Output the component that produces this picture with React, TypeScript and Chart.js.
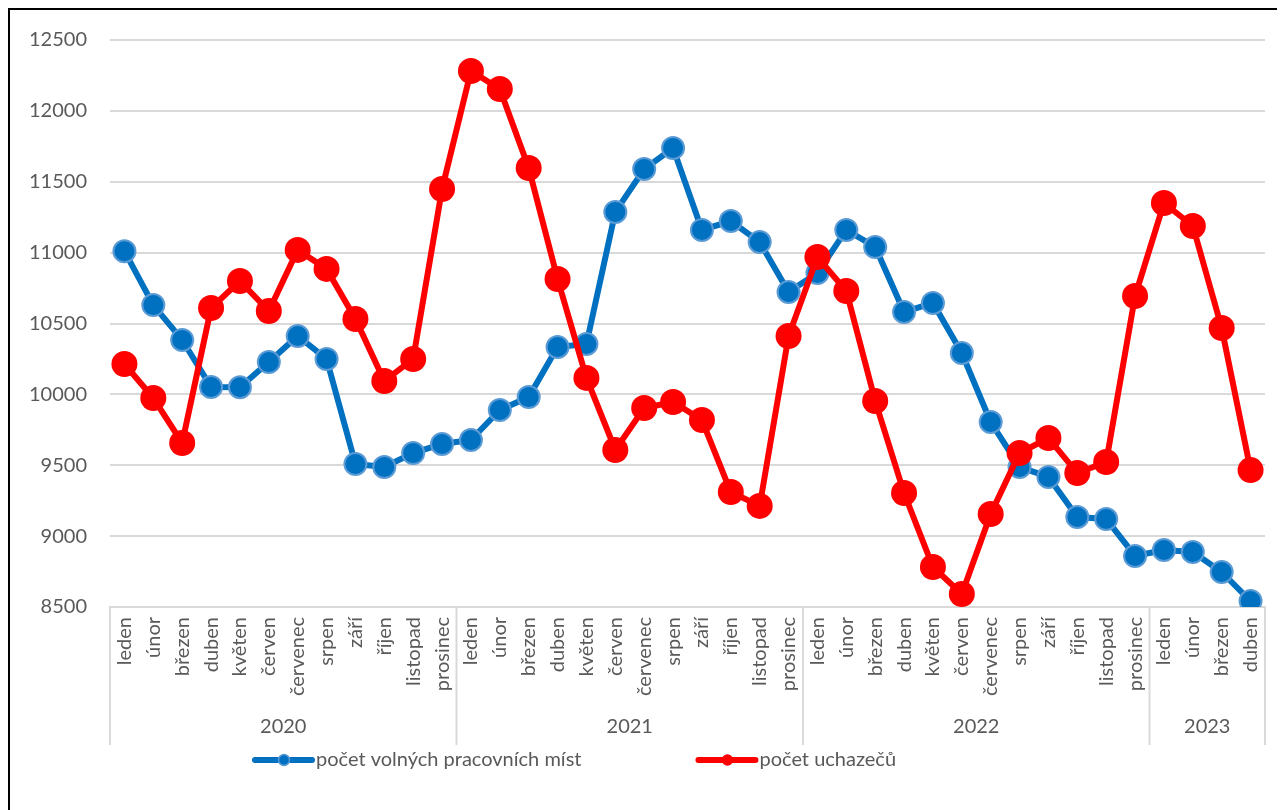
import { useEffect, useRef } from "react";
import { Chart, registerables } from "chart.js";

Chart.register(...registerables);

const months = ["leden", "únor", "březen", "duben", "květen", "červen", "červenec", "srpen", "září", "říjen", "listopad", "prosinec"];
const years = ["2020", "2021", "2022", "2023"];
const monthsPerYear = [12, 12, 12, 4];
const categories: string[] = monthsPerYear.flatMap((n) => months.slice(0, n));

const vacancies = [
  11010, 10630, 10384, 10052, 10050, 10228, 10412, 10250, 9509, 9488, 9586, 9650,
  9678, 9890, 9981, 10334, 10355, 11287, 11590, 11738, 11160, 11223, 11075, 10722,
  10856, 11160, 11040, 10581, 10645, 10292, 9805, 9488, 9417, 9135, 9121, 8860,
  8902, 8888, 8747, 8542,
];
const applicants = [
  10214, 9974, 9657, 10609, 10800, 10588, 11019, 10885, 10532, 10094, 10250, 11449,
  12281, 12154, 11597, 10814, 10116, 9608, 9904, 9946, 9819, 9311, 9213, 10412,
  10969, 10729, 9953, 9304, 8782, 8592, 9156, 9586, 9692, 9445, 9523, 10694,
  11350, 11188, 10468, 9466,
];
const seriesNames = ["počet volných pracovních míst", "počet uchazečů"];
const yMin = 8500;
const yMax = 12500;
const yStep = 500;

const FONT = "Lato, 'Open Sans', sans-serif";
const TEXT = "#595959";
const GRID = "#d9d9d9";
const BLUE = "#0070C0";
const BLUE_EDGE = "#5B9BD5";
const RED = "#FF0000";

const yearAxisPlugin = {
  id: "yearAxis",
  afterDraw(chart: any) {
    const { ctx, chartArea, scales } = chart;
    const x = scales.x;
    const half = (x.getPixelForValue(1) - x.getPixelForValue(0)) / 2;
    const top = chartArea.bottom;
    const bottom = chartArea.bottom + 138;
    ctx.save();
    ctx.font = `20px ${FONT}`;
    ctx.fillStyle = TEXT;
    ctx.textAlign = "center";
    ctx.textBaseline = "middle";
    ctx.strokeStyle = GRID;
    ctx.lineWidth = 2;
    let start = 0;
    const bounds: number[] = [];
    years.forEach((yr, i) => {
      const n = monthsPerYear[i];
      const x0 = x.getPixelForValue(start) - half;
      const x1 = x.getPixelForValue(start + n - 1) + half;
      bounds.push(x0);
      if (i === years.length - 1) bounds.push(x1);
      ctx.fillText(yr, (x0 + x1) / 2, chartArea.bottom + 120);
      start += n;
    });
    bounds.forEach((bx) => {
      ctx.beginPath();
      ctx.moveTo(bx, top);
      ctx.lineTo(bx, bottom);
      ctx.stroke();
    });

    // legend
    const ly = chartArea.bottom + 153;
    ctx.font = `20px ${FONT}`;
    ctx.textAlign = "left";
    ctx.textBaseline = "middle";
    const items = [
      { name: seriesNames[0], color: BLUE, edge: BLUE_EDGE, r: 5.5 },
      { name: seriesNames[1], color: RED, edge: RED, r: 5 },
    ];
    let lx = chartArea.left + 145;
    items.forEach((it) => {
      ctx.strokeStyle = it.color;
      ctx.lineWidth = 6;
      ctx.lineCap = "round";
      ctx.beginPath();
      ctx.moveTo(lx, ly);
      ctx.lineTo(lx + 57, ly);
      ctx.stroke();
      ctx.beginPath();
      ctx.arc(lx + 29, ly, it.r, 0, Math.PI * 2);
      ctx.fillStyle = it.color;
      ctx.fill();
      ctx.lineWidth = 1.5;
      ctx.strokeStyle = it.edge;
      ctx.stroke();
      ctx.fillStyle = TEXT;
      ctx.fillText(it.name, lx + 61, ly);
      const w = ctx.measureText(it.name).width;
      lx = lx + 61 + w + 117;
    });
    ctx.restore();
  },
};

export default function App() {
  const ref = useRef<HTMLCanvasElement>(null);
  useEffect(() => {
    if (!ref.current) return;
    const chart = new Chart(ref.current, {
      type: "line",
      data: {
        labels: categories,
        datasets: [
          {
            label: seriesNames[0],
            data: vacancies,
            borderColor: BLUE,
            backgroundColor: BLUE,
            borderWidth: 6,
            pointRadius: 11,
            pointBorderWidth: 2,
            pointBackgroundColor: BLUE,
            pointBorderColor: BLUE_EDGE,
            tension: 0,
            order: 1,
          },
          {
            label: seriesNames[1],
            data: applicants,
            borderColor: RED,
            backgroundColor: RED,
            borderWidth: 6,
            pointRadius: 13,
            pointBorderWidth: 0,
            pointBackgroundColor: RED,
            pointBorderColor: RED,
            tension: 0,
            order: 0,
          },
        ],
      },
      options: {
        animation: false,
        responsive: false,
        maintainAspectRatio: false,
        layout: { padding: { top: 30, right: 20, bottom: 63, left: 0 } },
        plugins: { legend: { display: false }, tooltip: { enabled: false } },
        scales: {
          x: {
            offset: true,
            grid: { display: false, drawTicks: false },
            border: { display: true, color: GRID, width: 2 },
            ticks: {
              autoSkip: false,
              minRotation: 90,
              maxRotation: 90,
              padding: 10,
              color: TEXT,
              font: { family: FONT, size: 20 },
            },
            afterFit: (s: any) => {
              s.height = 140;
              s.paddingLeft = 0;
              s.paddingRight = 0;
            },
          },
          y: {
            min: yMin,
            max: yMax,
            grid: { color: GRID, lineWidth: 2, drawTicks: false },
            border: { display: false },
            ticks: {
              stepSize: yStep,
              padding: 23,
              color: TEXT,
              font: { family: FONT, size: 20 },
              callback: (v: any) => String(v),
            },
            afterFit: (s: any) => {
              s.width = 100;
              s.paddingTop = 0;
              s.paddingBottom = 0;
            },
          },
        },
      },
      plugins: [yearAxisPlugin],
    });
    return () => chart.destroy();
  }, []);
  return (
    <div style={{ borderLeft: "2px solid #000", borderTop: "2px solid #000", width: 1275, height: 800 }}>
      <canvas ref={ref} width={1275} height={800} style={{ display: "block" }} />
    </div>
  );
}
